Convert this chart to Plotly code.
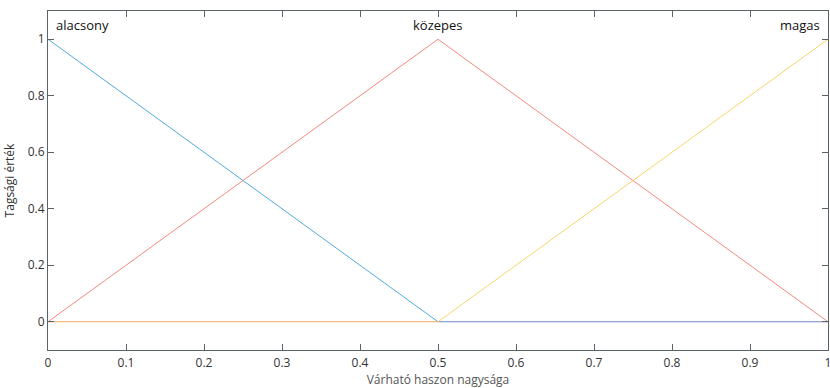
import plotly.graph_objects as go

x_pts = [0, 0.5, 1]
alacsony = [1, 0, 0]
kozepes = [0, 1, 0]
magas = [0, 0, 1]
names = ["alacsony", "közepes", "magas"]
x_ticks = [0, 0.1, 0.2, 0.3, 0.4, 0.5, 0.6, 0.7, 0.8, 0.9, 1]
y_ticks = [0, 0.2, 0.4, 0.6, 0.8, 1]

series = [alacsony, kozepes, magas]
line_colors = ["#52aadd", "#f28b7c", "#f9d46a"]
zero_colors = ["#7383c0", "#f28b7c", "#f2a65c"]

fig = go.Figure()
for ys, c, zc in zip(series, line_colors, zero_colors):
    for i in range(len(x_pts) - 1):
        seg_x = [x_pts[i], x_pts[i + 1]]
        seg_y = [ys[i], ys[i + 1]]
        col = zc if seg_y[0] == 0 and seg_y[1] == 0 else c
        fig.add_trace(go.Scatter(x=seg_x, y=seg_y, mode="lines",
                                 line=dict(color=col, width=1), showlegend=False,
                                 hoverinfo="skip"))

for ys, name in zip(series, names):
    px = x_pts[ys.index(max(ys))]
    anchor = "left" if px == 0 else ("right" if px == 1 else "center")
    xs = 6 if px == 0 else (-6 if px == 1 else 0)
    fig.add_annotation(x=px, y=1.05, text=name, showarrow=False, xanchor=anchor,
                       yanchor="middle", xshift=xs,
                       font=dict(family="Open Sans", size=13, color="#111"))

axis_common = dict(showgrid=False, zeroline=False, showline=True, linecolor="#5a6466",
                   linewidth=1, mirror="ticks", ticks="inside", ticklen=6,
                   tickcolor="#5a6466", ticklabeloverflow="allow",
                   tickfont=dict(family="Open Sans", size=12, color="#333"))

fig.update_xaxes(range=[0, 1], tickvals=x_ticks, ticktext=[f"{v:g}" for v in x_ticks],
                 ticklabelstandoff=2,
                 title=dict(text="Várható haszon nagysága", standoff=3,
                            font=dict(family="Open Sans", size=12, color="#555")),
                 **axis_common)
fig.update_yaxes(range=[-0.1, 1.1], tickvals=y_ticks, ticktext=[f"{v:g}" for v in y_ticks],
                 title=dict(text="Tagsági érték", standoff=10,
                            font=dict(family="Open Sans", size=12, color="#333")),
                 **axis_common)

fig.update_layout(width=830, height=388, margin=dict(l=48, r=2, t=11, b=38, autoexpand=False),
                  paper_bgcolor="white", plot_bgcolor="white",
                  font=dict(family="Open Sans", size=12))

fig.write_html("out.html", config={"displayModeBar": False},
               post_script="document.body.style.margin='0';document.body.style.padding='0';")
